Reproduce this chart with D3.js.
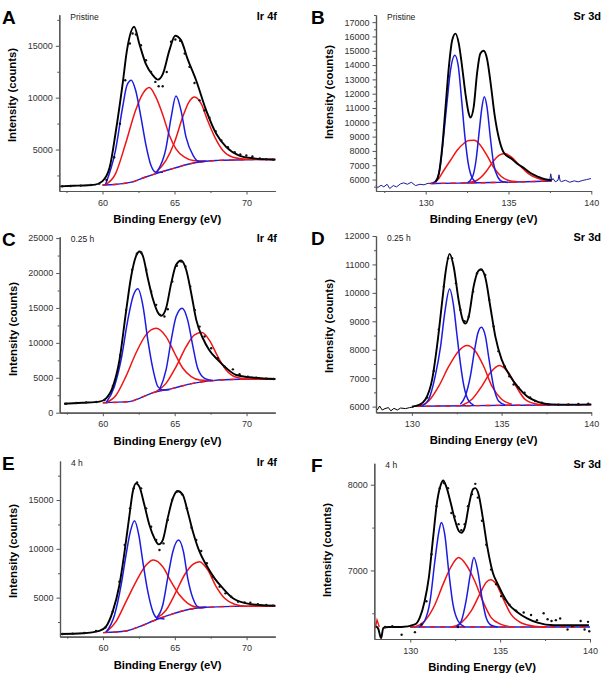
<!DOCTYPE html>
<html>
<head>
<meta charset="utf-8">
<script src="https://cdn.jsdelivr.net/npm/d3@7"></script>
<style>
  body { margin: 0; background: #fff; }
  text { font-family: "Liberation Sans", Arial, sans-serif; }
</style>
</head>
<body>
<div id="chart"></div>
<script>
// ---- data: [binding energy (eV), counts] ----

// A: Ir 4f, pristine
const aFit = [[57,1450],[58,1500],[59,1560],[59.5,1620],[60,1950],[60.5,3290],[60.9,6520],[61.4,11350],[61.7,14580],[62.2,16840],[62.55,15230],[63.0,13290],[63.5,12160],[63.85,11740],[64.2,12320],[64.65,14580],[65.05,15970],[65.45,15550],[65.9,13770],[66.5,11680],[67.2,8780],[67.9,6520],[68.6,5230],[69.5,4420],[70.45,4160],[72,4030]];
const aBlue1 = [[60.2,1600],[60.9,4900],[61.4,9100],[61.7,11190],[62.0,11680],[62.3,10710],[62.67,8130],[63.0,5550],[63.37,3450],[63.7,2810],[64.2,2800]];
const aBlue2 = [[63.8,2870],[64.4,5070],[64.77,8130],[65.1,10160],[65.45,8780],[65.8,6190],[66.3,4420],[66.7,3840],[67.2,3860]];
const aRed1 = [[60.2,1600],[60.9,2650],[61.6,5550],[62.3,8780],[62.8,10390],[63.25,10970],[63.7,10070],[64.2,8290],[64.65,6360],[65.1,5070],[65.7,4260],[66.3,3930],[67.2,3870]];
const aRed2 = [[63.7,2800],[64.4,3940],[65.0,5710],[65.57,8130],[66.0,9580],[66.4,10070],[66.85,9420],[67.3,7800],[67.8,6190],[68.36,4900],[69.06,4260],[70.0,4070],[72,4030]];
const aBg = [[60,1580],[61,1650],[62,1850],[63,2350],[64,2800],[65,3200],[66,3600],[67,3850],[68,3950],[70,4020],[72,4040]];
const aDots = [[57.21,1450],[57.79,1480],[58.49,1520],[59.19,1580],[59.77,1710],[60.28,2060],[60.81,4260],[61.21,7480],[61.58,11680],[61.9,15230],[62.09,16190],[62.32,16100],[62.67,15060],[63.02,13610],[63.37,12480],[63.67,11520],[63.9,11100],[64.18,11100],[64.46,12480],[64.76,15390],[65.06,15610],[65.39,15480],[65.71,14260],[66.04,12970],[66.39,11420],[66.74,9740],[67.08,8770],[67.43,8060],[67.85,6770],[68.25,5870],[68.71,5230],[69.18,4740],[69.57,4520],[69.99,4420],[70.41,4320],[70.92,4130],[71.38,4060],[71.85,4030]];

// B: Sr 3d, pristine
const bFit = [[130.6,5840],[130.8,6420],[131.0,8280],[131.2,11080],[131.4,13880],[131.6,15740],[131.8,16200],[132.0,15500],[132.2,13880],[132.4,12010],[132.6,10610],[132.7,10330],[132.9,11080],[133.1,13410],[133.3,14810],[133.5,15000],[133.7,14460],[133.95,12480],[134.15,10610],[134.45,8750],[134.75,7820],[135.16,7470],[135.57,7070],[135.97,6770],[136.38,6420],[136.8,6190],[137.2,6020],[137.6,5950]];
const bBlue1 = [[130.4,5720],[130.7,6070],[130.9,7120],[131.1,9220],[131.3,11550],[131.5,13640],[131.76,14690],[131.96,13990],[132.17,11550],[132.37,8980],[132.57,7120],[132.83,6070],[133.1,5770]];
const bBlue2 = [[132.53,5770],[132.83,6190],[133.04,7350],[133.24,9450],[133.4,11080],[133.54,11780],[133.7,11080],[133.9,8980],[134.1,7120],[134.35,6190],[134.66,5840],[134.95,5800]];
const bRed1 = [[130.3,5720],[130.7,5950],[131.1,6650],[131.5,7350],[131.9,8050],[132.3,8520],[132.6,8730],[132.94,8750],[133.3,8400],[133.75,7580],[134.15,6770],[134.55,6230],[134.96,5950],[135.57,5840]];
const bRed2 = [[132.5,5770],[133.1,5950],[133.64,6540],[134.05,7230],[134.45,7700],[134.76,7820],[135.16,7580],[135.67,7000],[136.2,6420],[136.8,6070],[137.6,5930]];
const bBg = [[130.3,5720],[132,5750],[134,5790],[135.5,5830],[137.6,5900]];
const bNoiseLeft = [[127.0,5580],[127.1,5440],[127.31,5600],[127.47,5490],[127.67,5670],[127.83,5370],[128.04,5580],[128.24,5490],[128.48,5700],[128.68,5770],[128.89,5670],[129.13,5810],[129.39,5580],[129.66,5670],[129.9,5630],[130.14,5740],[130.4,5720],[130.61,5810]];
const bNoiseRight = [[137.49,5950],[137.55,6400],[137.62,5960],[137.69,6070],[137.83,5840],[137.99,5950],[138.05,6330],[138.12,5900],[138.2,5860],[138.44,5950],[138.7,5810],[138.97,5910],[139.21,5840],[139.45,5930],[139.72,6000],[139.98,6070]];

// C: Ir 4f, 0.25 h
const cFit = [[57.3,1290],[58.6,1430],[59.77,1580],[60.23,2060],[60.7,3730],[61.16,7550],[61.6,14240],[61.97,19500],[62.3,22370],[62.55,23090],[62.8,22370],[63.13,19260],[63.5,16160],[63.83,14340],[64.06,13860],[64.4,14960],[64.76,18550],[65.1,21170],[65.45,21800],[65.8,20460],[66.15,17110],[66.5,13290],[66.96,10660],[67.4,8990],[68.0,7550],[68.6,6360],[69.28,5400],[70.2,5070],[72,4830]];
const cBlue1 = [[60.23,1430],[60.8,3730],[61.27,7550],[61.74,13290],[62.1,16630],[62.44,17730],[62.8,15200],[63.13,10420],[63.5,6120],[63.83,3730],[64.2,3250],[64.64,3300]];
const cBlue2 = [[63.94,3250],[64.4,6120],[64.76,10420],[65.1,13770],[65.52,14960],[65.9,13290],[66.27,9460],[66.6,6360],[67.08,4920],[67.66,4600]];
const cRed1 = [[60.23,1430],[60.93,2530],[61.6,5160],[62.3,8510],[63.0,11140],[63.7,12090],[64.4,10900],[65.0,8510],[65.57,6360],[66.15,5160],[66.73,4680],[67.43,4600]];
const cRed2 = [[63.7,3010],[64.4,4200],[65.1,6600],[65.8,9460],[66.38,11140],[66.9,11470],[67.4,10420],[68.0,8030],[68.58,6120],[69.28,5070],[70.2,4780],[72,4780]];
const cBg = [[60,1430],[61.86,1580],[62.55,2060],[63.5,2870],[64.87,3490],[66.27,4200],[67.66,4590],[69.5,4780],[72,4830]];
const cDots = [[57.45,1290],[58.14,1390],[58.84,1480],[59.54,1530],[60.12,1820],[60.7,3820],[61.21,8270],[61.62,14720],[62.04,20460],[62.37,22750],[62.67,22940],[63.02,20460],[63.36,17350],[63.71,15440],[63.99,14010],[64.29,13770],[64.52,14820],[64.83,18790],[65.15,21030],[65.45,21650],[65.75,20940],[66.08,18070],[66.4,14720],[66.73,12330],[67.08,10900],[67.54,9230],[68.0,7790],[68.47,6600],[69.05,6210],[69.51,5500],[70.09,5160],[70.67,5020],[71.37,4880],[71.88,4830]];

// D: Sr 3d, 0.25 h
const dFit = [[130.0,6000],[130.4,6060],[130.76,6260],[131.13,6960],[131.4,8120],[131.7,9760],[131.87,10690],[132.1,11370],[132.33,10920],[132.6,9760],[132.83,9060],[132.98,8920],[133.17,9170],[133.44,10220],[133.68,10750],[133.85,10830],[134.1,10520],[134.37,9520],[134.65,8470],[135.0,7660],[135.48,7070],[135.94,6670],[136.4,6370],[137.06,6160],[137.8,6080],[138.9,6070],[140,6080]];
const dBlue1 = [[130.57,6020],[130.94,6260],[131.3,7070],[131.6,8120],[131.83,9290],[132.1,10140],[132.33,9520],[132.5,8590],[132.7,7540],[132.9,6720],[133.17,6200],[133.44,6060]];
const dBlue2 = [[132.7,6080],[132.98,6370],[133.26,7070],[133.5,8010],[133.68,8590],[133.87,8790],[134.1,8470],[134.3,7660],[134.55,6720],[134.83,6200],[135.2,6060]];
const dRed1 = [[130.4,6020],[130.94,6200],[131.5,6720],[132.06,7420],[132.6,7950],[133.07,8150],[133.54,7950],[134.0,7420],[134.46,6720],[135.0,6260],[135.57,6080]];
const dRed2 = [[132.8,6050],[133.35,6260],[133.9,6720],[134.37,7190],[134.87,7450],[135.39,7190],[135.85,6670],[136.3,6260],[136.87,6100],[137.43,6060]];
const dBg = [[130.2,6010],[133,6030],[136,6050],[140,6060]];
const dNoiseLeft = [[128.07,5880],[128.2,6020],[128.35,5880],[128.5,5930],[128.69,5965],[128.83,5850],[129.0,5940],[129.19,5880],[129.37,5950],[129.65,5930],[129.87,5965],[130.11,5990]];
const dDots = [[130.48,6070],[130.85,6320],[131.22,7250],[131.5,8710],[131.78,10220],[132.02,11220],[132.24,11220],[132.46,10340],[132.7,9410],[132.94,9000],[133.17,9170],[133.41,10050],[133.63,10690],[133.87,10810],[134.09,10630],[134.31,9760],[134.56,8820],[134.83,7950],[135.17,7420],[135.43,7070],[135.67,6780],[135.94,6670],[136.28,6490],[136.59,6320],[136.87,6200],[137.24,6140],[137.61,6070],[138.17,6070],[138.72,6080],[139.28,6090],[139.83,6105]];

// E: Ir 4f, 4 h
const eFit = [[57,1280],[58.6,1350],[59.74,1590],[60.2,2030],[60.67,3570],[61.14,6300],[61.5,9710],[61.84,13460],[62.07,15850],[62.3,16710],[62.53,16370],[62.88,14490],[63.23,12440],[63.58,11080],[63.88,10460],[64.16,10900],[64.5,13120],[64.86,15170],[65.2,15920],[65.56,15510],[65.9,13800],[66.26,11760],[66.72,9710],[67.19,8340],[67.77,6980],[68.35,5960],[69.05,4930],[69.98,4420],[70.9,4250],[72,4180]];
const eBlue1 = [[60.2,1450],[60.8,3230],[61.26,6300],[61.6,9370],[61.9,11760],[62.19,12880],[62.49,11420],[62.77,8690],[63.12,5610],[63.47,3570],[63.81,2880],[64.28,2820]];
const eBlue2 = [[63.7,2880],[64.16,4250],[64.5,6980],[64.86,9710],[65.26,10900],[65.6,9710],[65.9,6980],[66.26,4930],[66.72,3980],[67.19,4010]];
const eRed1 = [[60.2,1450],[60.9,2540],[61.6,4590],[62.3,6640],[63.0,8340],[63.5,8860],[64.16,8170],[64.74,6640],[65.33,5270],[65.9,4420],[66.49,4040],[67.19,4010]];
const eRed2 = [[63.7,2880],[64.4,3740],[65.09,5610],[65.67,7320],[66.26,8410],[66.72,8690],[67.3,7830],[67.88,6130],[68.47,4930],[69.16,4320],[69.98,4110],[72,4110]];
const eBg = [[60,1420],[61.6,1590],[62.53,2030],[63.47,2610],[64.63,3230],[65.8,3740],[67.19,4010],[69.05,4110],[72,4150]];
const eDots = [[57.19,1280],[57.88,1310],[58.7,1380],[59.51,1590],[60.16,1930],[60.67,3570],[61.14,6640],[61.51,10390],[61.88,14150],[62.14,16200],[62.37,16810],[62.65,16200],[63.0,14150],[63.35,12270],[63.7,10900],[63.93,9880],[64.21,10560],[64.51,12950],[64.81,15000],[65.14,15850],[65.51,15580],[65.84,14150],[66.16,12170],[66.49,10900],[66.84,9780],[67.23,8520],[67.65,7150],[68.12,6130],[68.53,5440],[68.93,5100],[69.4,4590],[69.86,4520],[70.26,4490],[70.79,4320],[71.37,4250],[71.84,4180]];

// F: Sr 3d, 4 h
const fFit = [[128.1,6350],[128.22,6320],[128.38,6210],[128.5,6330],[128.8,6340],[129.5,6340],[130.26,6370],[130.53,6450],[130.8,6640],[131.03,6910],[131.27,7380],[131.5,7810],[131.7,8000],[131.83,8050],[132.0,7980],[132.25,7790],[132.47,7600],[132.7,7460],[132.84,7440],[133.03,7500],[133.27,7770],[133.5,7950],[133.62,7960],[133.8,7890],[134.04,7610],[134.3,7260],[134.6,6970],[134.87,6840],[135.15,6720],[135.5,6600],[135.98,6510],[136.5,6440],[137.08,6390],[138.0,6360],[139.94,6360]];
const fBlue1 = [[130.5,6340],[130.8,6410],[131.1,6640],[131.37,7110],[131.6,7460],[131.73,7560],[131.92,7420],[132.14,6990],[132.38,6600],[132.66,6410],[133.03,6340]];
const fBlue2 = [[132.56,6340],[132.84,6410],[133.1,6640],[133.34,6950],[133.54,7150],[133.76,6990],[133.99,6680],[134.22,6450],[134.5,6360],[134.87,6340]];
const fRed1 = [[130.26,6340],[130.8,6410],[131.37,6600],[131.83,6840],[132.29,7050],[132.69,7150],[133.1,7070],[133.58,6880],[134.04,6640],[134.5,6450],[135.06,6370],[135.6,6340]];
const fRed2 = [[132.29,6340],[132.84,6390],[133.4,6530],[133.86,6720],[134.22,6860],[134.47,6890],[134.78,6840],[135.15,6680],[135.6,6490],[136.16,6390],[136.9,6350],[137.64,6340]];
const fBg = [[130,6340],[134,6340],[140,6340]];
const fSpike = [[128.05,6330],[128.15,6420],[128.28,6340]];
const fDots = [[128.6,6340],[129.0,6350],[129.52,6250],[130.26,6280],[130.63,6370],[130.9,6640],[131.18,7190],[131.46,7750],[131.64,7960],[131.88,8020],[132.1,7960],[132.29,7670],[132.47,7630],[132.69,7540],[132.84,7470],[133.03,7540],[133.21,7750],[133.43,7890],[133.62,8010],[133.76,7850],[133.99,7580],[134.23,7300],[134.5,7010],[134.78,6840],[135.06,6700],[135.24,6670],[135.52,6600],[135.89,6530],[136.31,6510],[136.72,6480],[137.05,6420],[137.42,6500],[137.64,6430],[137.86,6410],[138.1,6420],[138.34,6440],[138.75,6310],[139.02,6350],[139.48,6410],[139.7,6310],[139.89,6400],[139.96,6290],[132.66,6340]];

// tick values
const irXTicks = [60, 65, 70];
const irXMinor = [57.5, 62.5, 67.5];
const srXTicks = [130, 135, 140];
const srXMinorB = [127.5, 132.5, 137.5];
const srXMinor = [132.5, 137.5];
const aYTicks = [5000, 10000, 15000];
const aYMinor = [2500, 7500, 12500, 17500];
const bYTicks = d3.range(6000, 17001, 1000);
const bYMinor = d3.range(5500, 17501, 1000);
const cYTicks = [0, 5000, 10000, 15000, 20000, 25000];
const cYMinor = [2500, 7500, 12500, 17500, 22500];
const dYTicks = [6000, 7000, 8000, 9000, 10000, 11000, 12000];
const dYMinor = [6500, 7500, 8500, 9500, 10500, 11500];
const eYTicks = [5000, 10000, 15000];
const eYMinor = [2500, 7500, 12500, 17500];
const fYTicks = [7000, 8000];
const fYMinor = [6500, 7500];

const letters = ["A", "B", "C", "D", "E", "F"];
const states = ["Pristine", "Pristine", "0.25 h", "0.25 h", "4 h", "4 h"];
const lines = ["Ir 4f", "Sr 3d", "Ir 4f", "Sr 3d", "Ir 4f", "Sr 3d"];

// ---- layout ----
const W = 609, H = 674;
const BLUE = "#1c1ce0", RED = "#f01414";

const panels = [
  { fit: aFit, blue: [aBlue1, aBlue2], red: [aRed1, aRed2], bg: aBg, dots: aDots, noise: [],
    xd: [57, 72], yd: [1000, 18000], xt: irXTicks, xm: irXMinor, yt: aYTicks, ym: aYMinor,
    l: 59.3, r: 275.3, t: 14.7, b: 191, ylY: 95 },
  { fit: bFit, blue: [bBlue1, bBlue2], red: [bRed1, bRed2], bg: bBg, dots: [], noise: [bNoiseLeft, bNoiseRight], noiseColor: "#1c1c9a",
    xd: [127, 140], yd: [5200, 17500], xt: srXTicks, xm: srXMinorB, yt: bYTicks, ym: bYMinor,
    l: 376, r: 591.3, t: 15, b: 191, ylY: 92 },
  { fit: cFit, blue: [cBlue1, cBlue2], red: [cRed1, cRed2], bg: cBg, dots: cDots, noise: [],
    xd: [57, 72], yd: [0, 25200], xt: irXTicks, xm: irXMinor, yt: cYTicks, ym: cYMinor,
    l: 59.7, r: 275.3, t: 236.7, b: 412.7, ylY: 329 },
  { fit: dFit, blue: [dBlue1, dBlue2], red: [dRed1, dRed2], bg: dBg, dots: dDots, noise: [dNoiseLeft], noiseColor: "#000",
    xd: [128, 140], yd: [5800, 12000], xt: srXTicks, xm: srXMinor, yt: dYTicks, ym: dYMinor,
    l: 376, r: 591.3, t: 236, b: 412.3, ylY: 326 },
  { fit: eFit, blue: [eBlue1, eBlue2], red: [eRed1, eRed2], bg: eBg, dots: eDots, noise: [],
    xd: [57, 72], yd: [1000, 19000], xt: irXTicks, xm: irXMinor, yt: eYTicks, ym: eYMinor,
    l: 60, r: 275.3, t: 461, b: 636.7, ylY: 551 },
  { fit: fFit, blue: [fBlue1, fBlue2], red: [fRed1, fRed2], bg: fBg, dots: fDots, noise: [], spike: fSpike,
    xd: [128, 140], yd: [6200, 8250], xt: srXTicks, xm: srXMinor, yt: fYTicks, ym: fYMinor,
    l: 374.3, r: 590, t: 463.3, b: 639, ylY: 550 }
];

const svg = d3.select("#chart").append("svg")
  .attr("width", W).attr("height", H)
  .style("background", "#fff");

panels.forEach((p, i) => drawPanel(p, i));

function drawPanel(p, i) {
  const x = d3.scaleLinear().domain(p.xd).range([p.l, p.r]);
  const y = d3.scaleLinear().domain(p.yd).range([p.b, p.t]);
  const g = svg.append("g");
  const smooth = d3.line().x(d => x(d[0])).y(d => y(d[1])).curve(d3.curveMonotoneX);
  const jag = d3.line().x(d => x(d[0])).y(d => y(d[1]));

  // background: blue with red dashes on top
  g.append("path").attr("d", smooth(p.bg))
    .attr("fill", "none").attr("stroke", BLUE).attr("stroke-width", 1.4);
  g.append("path").attr("d", smooth(p.bg))
    .attr("fill", "none").attr("stroke", RED).attr("stroke-width", 1.4)
    .attr("stroke-dasharray", "5,5");

  if (p.spike) {
    g.append("path").attr("d", jag(p.spike))
      .attr("fill", "none").attr("stroke", RED).attr("stroke-width", 1.4);
  }

  p.noise.forEach(n => {
    g.append("path").attr("d", jag(n))
      .attr("fill", "none").attr("stroke", p.noiseColor).attr("stroke-width", 1);
  });

  p.red.forEach(c => {
    g.append("path").attr("d", smooth(c))
      .attr("fill", "none").attr("stroke", RED).attr("stroke-width", 1.5);
  });
  p.blue.forEach(c => {
    g.append("path").attr("d", smooth(c))
      .attr("fill", "none").attr("stroke", BLUE).attr("stroke-width", 1.5);
  });

  g.append("path").attr("d", smooth(p.fit))
    .attr("fill", "none").attr("stroke", "#000").attr("stroke-width", 1.9);

  g.selectAll("circle.dot").data(p.dots).enter().append("circle")
    .attr("class", "dot")
    .attr("cx", d => x(d[0])).attr("cy", d => y(d[1]))
    .attr("r", 1.2).attr("fill", "#111");

  // axes
  const axColor = "#555";
  const yAx = g.append("g").attr("transform", `translate(${p.l},0)`)
    .call(d3.axisLeft(y).tickValues(p.yt).tickSize(3.5).tickSizeOuter(0).tickPadding(3).tickFormat(d3.format("d")));
  const yMin = g.append("g").attr("transform", `translate(${p.l},0)`)
    .call(d3.axisLeft(y).tickValues(p.ym).tickSize(2).tickSizeOuter(0).tickFormat(""));
  const xAx = g.append("g").attr("transform", `translate(0,${p.b})`)
    .call(d3.axisBottom(x).tickValues(p.xt).tickSize(3.5).tickSizeOuter(0).tickPadding(3).tickFormat(d3.format("d")));
  const xMin = g.append("g").attr("transform", `translate(0,${p.b})`)
    .call(d3.axisBottom(x).tickValues(p.xm).tickSize(2).tickSizeOuter(0).tickFormat(""));

  [yAx, yMin, xAx, xMin].forEach(a => {
    a.select(".domain").attr("stroke", axColor).attr("stroke-width", 1.2);
    a.selectAll(".tick line").attr("stroke", axColor).attr("stroke-width", 1);
    a.selectAll(".tick text")
      .attr("fill", "#333")
      .style("font-family", "'Liberation Sans', Arial, sans-serif")
      .style("font-size", "9px");
  });
  xAx.selectAll(".tick text").attr("dy", "0.9em");

  // labels
  const cx = (p.l + p.r) / 2;
  g.append("text")
    .attr("x", cx).attr("y", p.b + 32)
    .attr("text-anchor", "middle")
    .style("font-size", "11.3px").style("font-weight", "bold")
    .text("Binding Energy (eV)");

  g.append("text")
    .attr("transform", `translate(${p.l - 47},${p.ylY}) rotate(-90)`)
    .attr("text-anchor", "middle").attr("dy", "0.35em")
    .style("font-size", "11.3px").style("font-weight", "bold")
    .text("Intensity (counts)");

  const leftCol = i % 2 === 0;
  g.append("text")
    .attr("x", leftCol ? 2 : 311).attr("y", p.t + 9)
    .style("font-size", "19px").style("font-weight", "bold")
    .text(letters[i]);

  g.append("text")
    .attr("x", leftCol ? 277 : 601).attr("y", p.t + 5)
    .attr("text-anchor", "end")
    .style("font-size", "11px").style("font-weight", "bold")
    .text(lines[i]);

  g.append("text")
    .attr("x", p.l + 11).attr("y", p.t + 5)
    .attr("fill", "#222")
    .style("font-size", "8.5px")
    .text(states[i]);
}
</script>
</body>
</html>
